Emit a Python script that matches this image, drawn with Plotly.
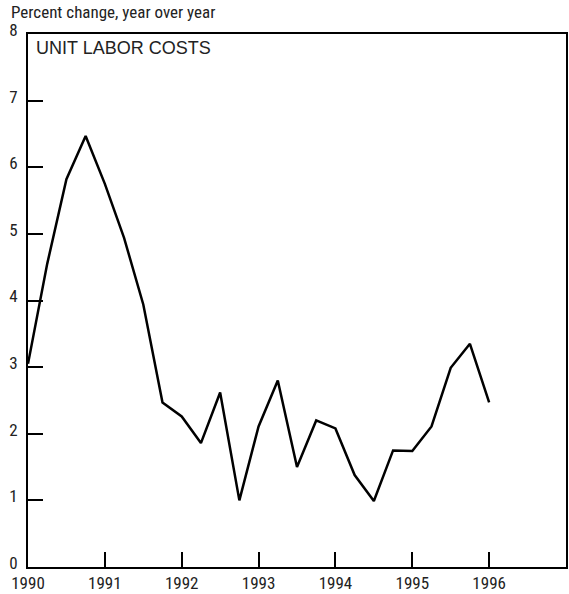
import plotly.graph_objects as go

quarters = [1990.0, 1990.25, 1990.5, 1990.75, 1991.0, 1991.25, 1991.5, 1991.75,
            1992.0, 1992.25, 1992.5, 1992.75, 1993.0, 1993.25, 1993.5, 1993.75,
            1994.0, 1994.25, 1994.5, 1994.75, 1995.0, 1995.25, 1995.5, 1995.75,
            1996.0]
unit_labor_costs = [3.05, 4.55, 5.82, 6.47, 5.75, 4.94, 3.94, 2.47,
                    2.26, 1.86, 2.62, 1.0, 2.11, 2.80, 1.50, 2.20,
                    2.08, 1.38, 0.99, 1.75, 1.74, 2.11, 2.99, 3.35,
                    2.47]
year_ticks = [1990, 1991, 1992, 1993, 1994, 1995, 1996]
year_labels = ["1990", "1991", "1992", "1993", "1994", "1995", "1996"]
y_ticks = [0, 1, 2, 3, 4, 5, 6, 7, 8]

FONT = "Liberation Sans Narrow, Roboto Condensed, Liberation Sans, Arial"

fig = go.Figure()
fig.add_trace(go.Scatter(x=quarters, y=unit_labor_costs, mode="lines",
                         line=dict(color="black", width=2.5), hoverinfo="skip"))

fig.update_layout(
    width=569, height=594,
    margin=dict(l=28, r=1, t=34, b=26),
    paper_bgcolor="white", plot_bgcolor="white",
    showlegend=False,
    font=dict(family=FONT, size=17, color="#222"),
    xaxis=dict(range=[1990, 1997], tickvals=year_ticks, ticktext=year_labels,
               ticks="inside", ticklen=15, tickwidth=2, tickcolor="black",
               showgrid=False, zeroline=False, showline=True, linecolor="black",
               linewidth=2, mirror=True, tickfont=dict(size=17)),
    yaxis=dict(range=[0, 8], tickvals=y_ticks,
               ticks="inside", ticklen=15, tickwidth=2, tickcolor="black",
               showgrid=False, zeroline=False, showline=True, linecolor="black",
               linewidth=2, mirror=True, tickfont=dict(size=17),
               ticklabelstandoff=5, ticklabelshift=-4),
    annotations=[
        dict(text="Percent change, year over year", xref="paper", yref="paper",
             x=-0.035, y=1.0, yshift=22, xanchor="left", yanchor="middle",
             showarrow=False, font=dict(size=17, family=FONT)),
        dict(text="UNIT LABOR COSTS", xref="paper", yref="paper",
             x=0.012, y=0.974, xanchor="left", yanchor="middle",
             showarrow=False, font=dict(size=18, family="Liberation Sans, Arial")),
    ],
)

fig.write_html("out.html", config={"displayModeBar": False},
               post_script="document.body.style.margin='0';document.body.style.overflow='hidden';")
